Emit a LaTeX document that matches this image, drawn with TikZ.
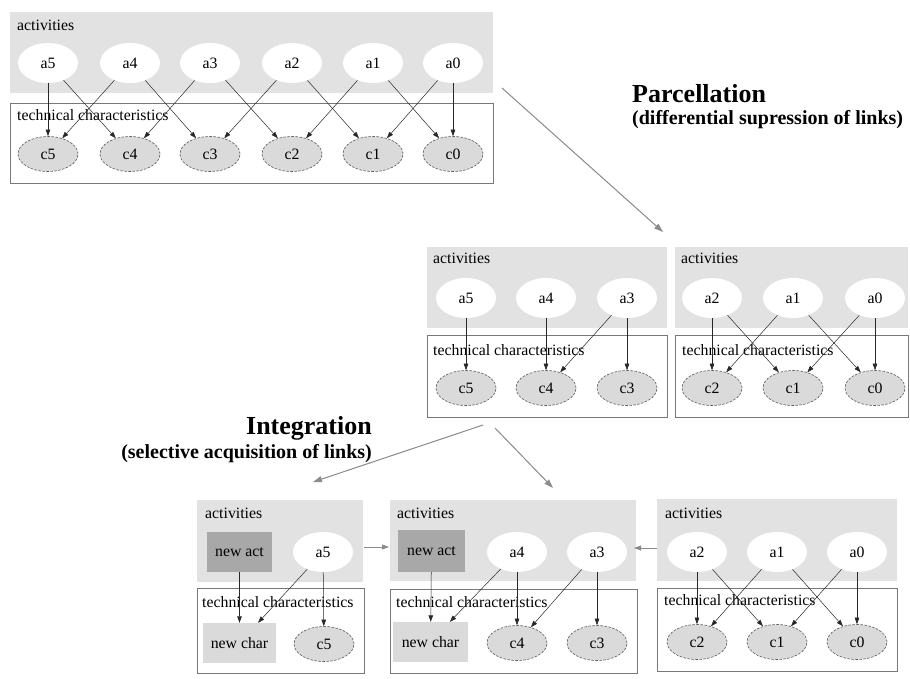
\documentclass[tikz,border=0pt]{standalone}
\usepackage{fontspec}
\setmainfont{Liberation Serif}
\usetikzlibrary{shapes.geometric,arrows.meta}
\definecolor{actbg}{RGB}{226,226,226}
\definecolor{techline}{RGB}{120,120,120}
\definecolor{cfill}{RGB}{218,218,218}
\definecolor{cline}{RGB}{90,90,90}
\definecolor{newactfill}{RGB}{168,168,168}
\definecolor{flowgray}{RGB}{140,140,140}
\definecolor{linkcol}{RGB}{40,40,40}
\newcommand{\lab}{\fontsize{15.8}{17}\selectfont}
\newcommand{\ttl}{\fontsize{26}{28}\selectfont\bfseries}
\newcommand{\sttl}{\fontsize{20}{22}\selectfont\bfseries}
\tikzset{
  actbox/.style={fill=actbg, draw=none},
  techbox/.style={draw=techline, line width=0.8pt, fill=white},
  anode/.style={ellipse, fill=white, minimum width=60pt, minimum height=40pt, inner sep=0pt, font=\lab},
  cnode/.style={ellipse, fill=cfill, draw=cline, line width=0.6pt, dash pattern=on 2.5pt off 1.5pt, minimum width=60pt, minimum height=35pt, inner sep=0pt, font=\lab},
  newact/.style={rectangle, fill=newactfill, minimum width=65pt, minimum height=40pt, inner sep=0pt, font=\lab},
  newchar/.style={rectangle, fill=cfill, minimum width=73pt, minimum height=40pt, inner sep=0pt, font=\lab},
  lnk/.style={-{Triangle[length=6.5pt,width=4.5pt]}, draw=linkcol, line width=0.5pt},
  flow/.style={-{Triangle[length=9pt,width=6pt]}, draw=flowgray, fill=flowgray, line width=1pt},
  grp/.style={font=\lab, anchor=west, inner sep=0pt},
}
\begin{document}
\begin{tikzpicture}[x=1pt,y=-1pt]
\useasboundingbox (0,0) rectangle (910,678);
% ---------------- top diagram ----------------
\path[actbox] (10,12) rectangle (493,93);
\path[techbox] (10,103) rectangle (493,183);
\node[grp] (tact) at (17,25) {activities};
\node[grp] (ttech) at (17,115) {technical characteristics};
\foreach \i/\x in {5/48,4/130,3/210,2/292,1/373,0/453}{
  \node[anode] (ta\i) at (\x,63) {a\i};
  \node[cnode] (tc\i) at (\x,154) {c\i};
}
\foreach \s/\t in {5/5,5/4,4/5,4/3,3/4,3/2,2/3,2/1,1/2,1/0,0/1,0/0}{
  \draw[lnk] (ta\s) -- (tc\t);
}
% ---------------- middle diagrams ----------------
\path[actbox] (427,247) rectangle (667,328);
\path[techbox] (427,335) rectangle (667,417);
\path[actbox] (675,247) rectangle (908,328);
\path[techbox] (675,335) rectangle (908,417);
\node[grp] (mact1) at (433,258) {activities};
\node[grp] (mtech1) at (433,350) {technical characteristics};
\node[grp] (mact2) at (681,258) {activities};
\node[grp] (mtech2) at (682,350) {technical characteristics};
\foreach \i/\x in {5/466,4/546,3/627,2/712,1/793,0/875}{
  \node[anode] (ma\i) at (\x,298) {a\i};
  \node[cnode] (mc\i) at (\x,388) {c\i};
}
\foreach \s/\t in {5/5,4/4,3/4,3/3,2/2,2/1,1/2,1/0,0/1,0/0}{
  \draw[lnk] (ma\s) -- (mc\t);
}
% ---------------- bottom diagrams ----------------
\path[actbox] (197,500) rectangle (363,582);
\path[techbox] (197,588) rectangle (364,673);
\path[actbox] (390,500) rectangle (636,581);
\path[techbox] (390,589) rectangle (637,673);
\path[actbox] (657,499) rectangle (897,581);
\path[techbox] (657,588) rectangle (897,671);
\node[grp] (bact1) at (205,513) {activities};
\node[grp] (btech1) at (202,602) {technical characteristics};
\node[grp] (bact2) at (397,513) {activities};
\node[grp] (btech2) at (396,602) {technical characteristics};
\node[grp] (bact3) at (665,513) {activities};
\node[grp] (btech3) at (664,600) {technical characteristics};
% group 1
\node[newact] (bna1) at (239.5,552) {new act};
\node[anode] (ba5) at (323,552) {a5};
\node[newchar] (bnc1) at (239.5,643) {new char};
\node[cnode] (bc5) at (324,644) {c5};
\draw[lnk] (bna1) -- (bnc1);
\draw[lnk] (ba5) -- (bnc1);
\draw[lnk] (ba5) -- (bc5);
% group 2
\node[newact, minimum width=67pt, minimum height=42pt] (bna2) at (431.5,551) {new act};
\node[anode] (ba4) at (517,552) {a4};
\node[anode] (ba3) at (597,552) {a3};
\node[newchar, minimum width=75pt] (bnc2) at (430.5,642) {new char};
\node[cnode] (bc4) at (517,643) {c4};
\node[cnode] (bc3) at (597,643) {c3};
\draw[lnk] (bna2) -- (bnc2);
\draw[lnk] (ba4) -- (bnc2);
\draw[lnk] (ba4) -- (bc4);
\draw[lnk] (ba3) -- (bc4);
\draw[lnk] (ba3) -- (bc3);
% group 3
\foreach \i/\x in {2/697,1/777,0/857}{
  \node[anode] (ba\i) at (\x,552) {a\i};
  \node[cnode] (bc\i) at (\x,642) {c\i};
}
\foreach \s/\t in {2/2,2/1,1/2,1/0,0/1,0/0}{
  \draw[lnk] (ba\s) -- (bc\t);
}
% ---------------- flow arrows and titles ----------------
\coordinate (pstart) at (502,88);
\coordinate (pend) at (663,232);
\draw[flow] (pstart) -- (pend);
\node[anchor=west, inner sep=0pt, font=\ttl] (ptitle) at (632,94) {Parcellation};
\node[anchor=west, inner sep=0pt, font=\sttl] (psub) at (632,120) {(differential supression of links)};
\coordinate (ilstart) at (483,425);
\coordinate (ilend) at (313,482);
\coordinate (irstart) at (495,428);
\coordinate (irend) at (553,488);
\draw[flow] (ilstart) -- (ilend);
\draw[flow] (irstart) -- (irend);
\node[anchor=east, inner sep=0pt, font=\ttl] (ititle) at (372,428) {Integration};
\node[anchor=east, inner sep=0pt, font=\sttl] (isub) at (372,454) {(selective acquisition of links)};
\coordinate (g12s) at (364,547);
\coordinate (g12e) at (389,547);
\coordinate (g32s) at (657,548);
\coordinate (g32e) at (634,548);
\draw[flow, line width=0.8pt, -{Triangle[length=7pt,width=5pt]}] (g12s) -- (g12e);
\draw[flow, line width=0.8pt, -{Triangle[length=7pt,width=5pt]}] (g32s) -- (g32e);
\end{tikzpicture}
\end{document}
